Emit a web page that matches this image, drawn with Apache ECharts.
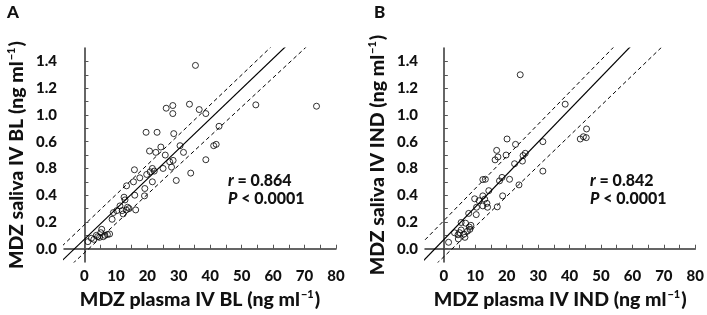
<!DOCTYPE html>
<html>
<head>
<meta charset="UTF-8">
<title>MDZ saliva vs plasma</title>
<script src="https://cdn.jsdelivr.net/npm/echarts@6/dist/echarts.min.js"></script>
<style>
  html, body { margin: 0; padding: 0; background: #fff; }
  #main { width: 707px; height: 315px; }
</style>
</head>
<body>
<div id="main"></div>
<script type="text/javascript">
// values: [plasma ng/ml, saliva ng/ml]
var pointsA = [
  [35.3,1.37],[26.0,1.05],[28.1,1.07],[28.1,1.01],[33.4,1.08],[36.5,1.04],[38.6,1.01],[54.5,1.075],[73.8,1.065],
  [19.6,0.87],[23.1,0.87],[28.4,0.86],[42.8,0.915],
  [20.7,0.73],[22.7,0.72],[24.3,0.76],[25.7,0.70],[30.4,0.77],[31.5,0.72],[41.1,0.77],[41.9,0.78],[38.6,0.665],
  [27.1,0.65],[28.2,0.66],[27.7,0.61],[25.0,0.60],[21.6,0.60],[20.9,0.575],[22.2,0.58],[33.8,0.565],[29.2,0.51],
  [15.9,0.59],[17.6,0.53],[15.6,0.50],[13.4,0.47],[19.8,0.555],[19.2,0.45],[19.1,0.395],[21.6,0.50],[16.0,0.40],[16.3,0.29],
  [12.6,0.385],[12.9,0.365],[11.3,0.32],[13.7,0.31],[12.0,0.285],[12.3,0.26],[10.3,0.285],[9.2,0.27],[8.8,0.22],[13.3,0.29],[14.2,0.30],
  [5.5,0.145],[3.8,0.10],[2.2,0.078],[1.1,0.053],[4.8,0.085],[6.5,0.10],[7.3,0.106],[6.0,0.09],[3.0,0.07],[8.0,0.11],[5.2,0.12],[4.2,0.09]
];
var pointsB = [
  [24.3,1.30],[38.6,1.08],[20.1,0.82],[22.8,0.78],[31.5,0.80],[45.4,0.895],[45.3,0.83],[43.4,0.82],[44.4,0.837],
  [16.8,0.735],[17.2,0.686],[16.3,0.664],[19.8,0.70],[25.2,0.696],[25.9,0.713],[25.0,0.655],[22.5,0.635],[31.5,0.58],
  [18.5,0.533],[17.7,0.507],[20.9,0.519],[23.9,0.477],[12.4,0.517],[13.2,0.519],[18.7,0.395],[17.0,0.313],[14.3,0.434],
  [12.4,0.395],[9.8,0.373],[11.2,0.359],[13.0,0.37],[13.7,0.339],[12.4,0.32],[13.9,0.31],[10.4,0.31],[10.3,0.255],[7.9,0.264],
  [5.5,0.196],[6.9,0.191],[8.1,0.162],[8.6,0.175],[3.4,0.119],[4.5,0.104],[5.5,0.14],[6.4,0.109],[7.5,0.131],[4.6,0.073],
  [6.7,0.085],[1.5,0.048],[8.3,0.145],[5.0,0.12]
];

// fitted lines [intercept, slope]: regression, upper and lower bound
var fitA = [0.071, 0.0225];
var upperA = [0.179, 0.0224];
var lowerA = [-0.03, 0.0218];
var fitB = [0.068, 0.0243];
var upperB = [0.21, 0.024];
var lowerB = [-0.06, 0.0226];

var xLabelValues = [0, 10, 20, 30, 40, 50, 60, 70, 80];
var xTickValues = [0, 5, 10, 15, 20, 25, 30, 35, 40, 45, 50, 55, 60, 65, 70, 75, 80];
var yLabelValues = [0, 0.2, 0.4, 0.6, 0.8, 1.0, 1.2, 1.4];
// tick labels as printed in the figure (0.8 and 0.6 are swapped there)
var yLabelText = ['0.0', '0.2', '0.4', '0.8', '0.6', '1.0', '1.2', '1.4'];
var yTickValues = [0, 0.1, 0.2, 0.3, 0.4, 0.5, 0.6, 0.7, 0.8, 0.9, 1.0, 1.1, 1.2, 1.3, 1.4];

var statsA = ['0.864', '0.0001'];
var statsB = ['0.842', '0.0001'];

var font = 'Lato, "Open Sans", sans-serif';
var heavy = 900;

function lineData(p) {
    // endpoints far outside the grid, clipped by echarts
    return [[-20, p[0] + p[1] * -20], [100, p[0] + p[1] * 100]];
}

var nameRich = {
    t: { fontFamily: font, fontWeight: heavy, fontSize: 19.5, color: '#111', lineHeight: 22 },
    s: { fontFamily: font, fontWeight: heavy, fontSize: 11, color: '#111', lineHeight: 22, verticalAlign: 'top', padding: [0, 1, 0, 1] }
};

function makeX(idx, min, title) {
    return {
        type: 'value', gridIndex: idx, min: min, max: 80,
        splitLine: { show: false },
        axisLine: { lineStyle: { color: '#333', width: 1.5 } },
        axisTick: { inside: true, length: 4, customValues: xTickValues, lineStyle: { color: '#555' } },
        axisLabel: {
            customValues: xLabelValues, margin: 7,
            color: '#111', fontFamily: font, fontWeight: heavy, fontSize: 15
        },
        name: '{t|' + title + ' (ng ml}{s|−1}{t|)}',
        nameLocation: 'middle', nameGap: 25,
        nameTextStyle: { rich: nameRich }
    };
}

function makeY(idx, title) {
    return {
        type: 'value', gridIndex: idx, min: -0.1, max: 1.5,
        splitLine: { show: false },
        axisLine: { lineStyle: { color: '#333', width: 1.5 } },
        axisTick: { inside: true, length: 4, customValues: yTickValues, lineStyle: { color: '#555' } },
        axisLabel: {
            customValues: yLabelValues, margin: 7,
            color: '#111', fontFamily: font, fontWeight: heavy, fontSize: 15,
            formatter: function (v) {
                return yLabelText[Math.round(v * 5)];
            }
        },
        name: '{t|' + title + ' (ng ml}{s|−1}{t|)}',
        nameLocation: 'middle', nameGap: 36,
        nameTextStyle: { rich: nameRich }
    };
}

function scatter(idx, data) {
    return {
        type: 'scatter', xAxisIndex: idx, yAxisIndex: idx, data: data,
        symbol: 'circle', symbolSize: 6,
        itemStyle: { color: 'rgba(0,0,0,0)', borderColor: '#000', borderWidth: 1 },
        z: 3
    };
}

function fitLine(idx, p, dashed) {
    return {
        type: 'line', xAxisIndex: idx, yAxisIndex: idx, data: lineData(p),
        showSymbol: false, clip: true, silent: true,
        lineStyle: { color: '#000', width: dashed ? 1 : 1.2, type: dashed ? [4, 3] : 'solid' }
    };
}

function statText(x, s) {
    var rich = {
        i: { fontFamily: font, fontWeight: heavy, fontStyle: 'italic', fontSize: 16, fill: '#111' },
        n: { fontFamily: font, fontWeight: heavy, fontSize: 16, fill: '#111' }
    };
    return [
        { type: 'text', left: x, top: 173, style: { text: '{i|r}{n| = ' + s[0] + '}', rich: rich } },
        { type: 'text', left: x, top: 191, style: { text: '{i|P}{n| < ' + s[1] + '}', rich: rich } }
    ];
}

var myChart = echarts.init(document.getElementById('main'));

var option = {
    animation: false,
    backgroundColor: '#fff',
    grid: [
        { left: 64, top: 48, width: 272, height: 219 },
        { left: 425, top: 48, width: 272, height: 219 }
    ],
    xAxis: [makeX(0, -6.5, 'MDZ plasma IV BL'), makeX(1, -6, 'MDZ plasma IV IND')],
    yAxis: [makeY(0, 'MDZ saliva IV BL'), makeY(1, 'MDZ saliva IV IND')],
    graphic: [
        { type: 'text', left: 7, top: 4, style: { text: 'A', fontFamily: font, fontWeight: heavy, fontSize: 17, fill: '#111' } },
        { type: 'text', left: 374, top: 4, style: { text: 'B', fontFamily: font, fontWeight: heavy, fontSize: 17, fill: '#111' } }
    ].concat(statText(228, statsA)).concat(statText(590, statsB)),
    series: [
        fitLine(0, fitA, false), fitLine(0, upperA, true), fitLine(0, lowerA, true),
        scatter(0, pointsA),
        fitLine(1, fitB, false), fitLine(1, upperB, true), fitLine(1, lowerB, true),
        scatter(1, pointsB)
    ]
};

myChart.setOption(option);
</script>
</body>
</html>
